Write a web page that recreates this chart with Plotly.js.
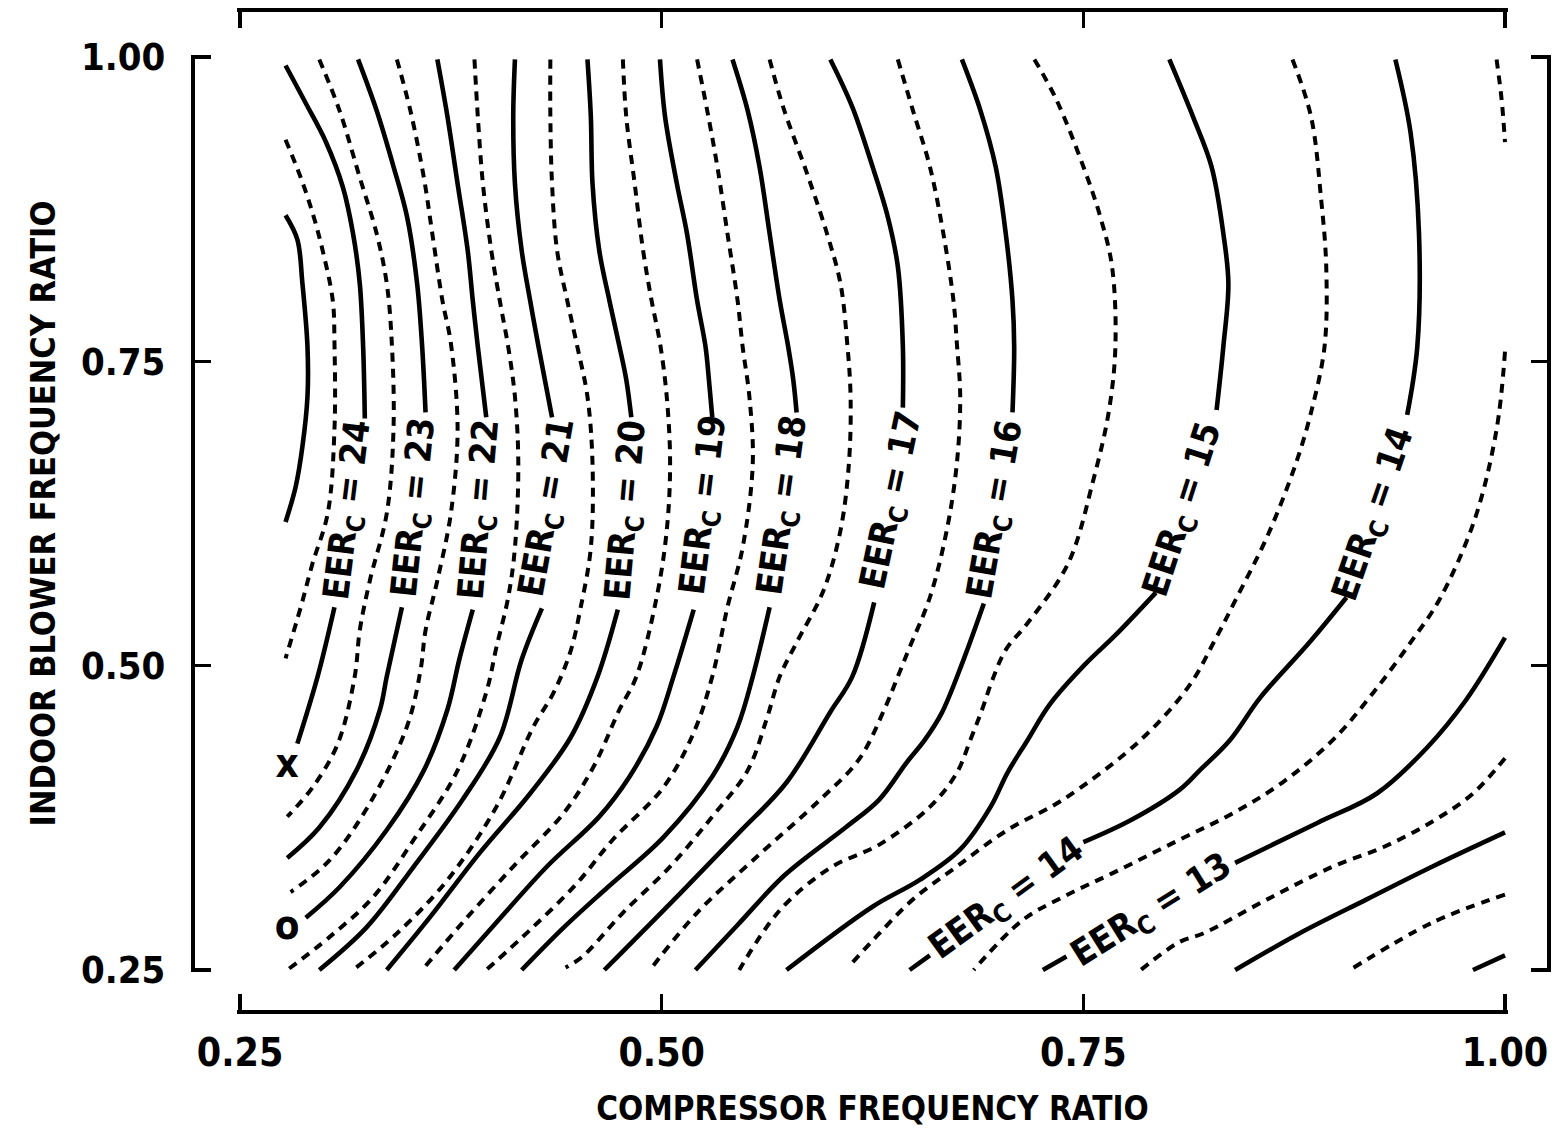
<!DOCTYPE html>
<html><head><meta charset="utf-8">
<script src="https://cdn.plot.ly/plotly-3.0.1.min.js"></script>
<style>html,body{margin:0;padding:0;background:#fff;}#chart{width:1555px;height:1128px;}</style>
</head><body><div id="chart"></div>
<script>
// ---- contour lines (x = compressor ratio, y = indoor blower ratio) ----
const eer25_x = [0.277,0.284,0.287,0.290,0.290,0.287,0.283,0.277];
const eer25_y = [0.870,0.850,0.814,0.762,0.721,0.680,0.647,0.618];
const eer245_x = [0.277,0.286,0.293,0.299,0.305,0.306,0.306,0.302,0.293,0.286,0.277];
const eer245_y = [0.932,0.901,0.872,0.841,0.800,0.765,0.694,0.625,0.584,0.548,0.506];
const eer24_x = [0.277,0.289,0.301,0.311,0.317,0.321,0.323,0.324,null,0.306,0.296,0.284];
const eer24_y = [0.993,0.962,0.930,0.893,0.855,0.814,0.762,0.703,null,0.548,0.491,0.436];
const eer235_x = [0.297,0.309,0.321,0.331,0.337,0.340,0.341,0.337,0.327,0.321,0.318,0.308,0.293,0.278];
const eer235_y = [0.998,0.956,0.901,0.855,0.814,0.765,0.694,0.625,0.570,0.529,0.491,0.436,0.400,0.376];
const eer23_x = [0.320,0.331,0.341,0.349,0.355,0.358,0.360,null,0.346,0.337,0.333,0.319,0.297,0.278];
const eer23_y = [0.998,0.956,0.910,0.869,0.814,0.762,0.708,null,0.548,0.491,0.464,0.414,0.367,0.342];
const eer225_x = [0.343,0.351,0.359,0.364,0.370,0.375,0.379,0.375,0.367,0.360,0.357,0.349,0.327,0.303,0.280];
const eer225_y = [0.998,0.956,0.901,0.855,0.800,0.765,0.694,0.625,0.570,0.529,0.496,0.450,0.387,0.340,0.314];
const eer22_x = [0.367,0.373,0.379,0.385,0.388,0.391,0.396,null,0.388,0.380,0.373,0.359,0.337,0.309,0.289];
const eer22_y = [0.998,0.951,0.896,0.841,0.800,0.762,0.704,null,0.546,0.505,0.464,0.414,0.365,0.318,0.293];
const eer215_x = [0.389,0.391,0.394,0.399,0.404,0.409,0.413,0.415,0.413,0.409,0.402,0.396,0.379,0.353,0.329,0.303,0.278];
const eer215_y = [0.998,0.951,0.896,0.841,0.800,0.762,0.721,0.666,0.597,0.556,0.515,0.478,0.414,0.357,0.310,0.277,0.250];
const eer21_x = [0.413,0.412,0.413,0.417,0.422,0.427,0.435,null,0.429,0.417,0.404,0.382,0.353,0.325,0.297];
const eer21_y = [0.998,0.951,0.896,0.841,0.800,0.762,0.704,null,0.547,0.505,0.441,0.390,0.335,0.285,0.250];
const eer205_x = [0.434,0.434,0.435,0.438,0.444,0.450,0.456,0.459,0.458,0.452,0.446,0.436,0.424,0.402,0.373,0.343,0.317];
const eer205_y = [0.998,0.951,0.896,0.841,0.800,0.762,0.721,0.666,0.597,0.548,0.512,0.478,0.450,0.384,0.324,0.280,0.250];
const eer20_x = [0.456,0.458,0.459,0.463,0.469,0.475,0.479,0.482,null,0.474,0.462,0.446,0.422,0.392,0.363,0.337];
const eer20_y = [0.998,0.951,0.896,0.841,0.800,0.762,0.735,0.704,null,0.546,0.491,0.441,0.395,0.346,0.294,0.250];
const eer195_x = [0.477,0.479,0.484,0.489,0.494,0.499,0.503,0.505,0.503,0.497,0.485,0.475,0.460,0.442,0.412,0.382,0.358];
const eer195_y = [0.998,0.951,0.896,0.841,0.800,0.765,0.721,0.666,0.611,0.556,0.491,0.464,0.418,0.379,0.335,0.289,0.250];
const eer19_x = [0.499,0.502,0.509,0.515,0.521,0.526,0.528,0.530,null,0.519,0.507,0.497,0.481,0.463,0.432,0.402,0.377];
const eer19_y = [0.998,0.951,0.896,0.855,0.800,0.762,0.735,0.704,null,0.546,0.491,0.450,0.409,0.376,0.335,0.289,0.250];
const eer185_x = [0.521,0.527,0.533,0.539,0.545,0.548,0.552,0.554,0.548,0.539,0.530,0.519,0.501,0.471,0.449,0.422,0.396];
const eer185_y = [0.998,0.956,0.910,0.855,0.800,0.762,0.721,0.666,0.597,0.548,0.491,0.445,0.400,0.357,0.320,0.283,0.250];
const eer18_x = [0.542,0.551,0.558,0.564,0.570,0.575,0.578,0.580,null,0.564,0.554,0.545,0.530,0.501,0.468,0.442,0.417];
const eer18_y = [0.998,0.956,0.910,0.855,0.800,0.762,0.735,0.708,null,0.548,0.491,0.450,0.409,0.359,0.318,0.285,0.250];
const eer175_x = [0.564,0.572,0.586,0.598,0.606,0.610,0.612,0.611,0.606,0.596,0.580,0.570,0.562,0.551,0.530,0.505,0.477,0.453,0.443];
const eer175_y = [0.998,0.959,0.905,0.855,0.814,0.765,0.721,0.666,0.611,0.562,0.519,0.491,0.455,0.414,0.376,0.335,0.297,0.261,0.252];
const eer17_x = [0.600,0.613,0.625,0.634,0.640,0.643,0.643,null,0.626,0.613,0.600,0.574,0.546,0.511,0.466];
const eer17_y = [0.998,0.959,0.910,0.869,0.828,0.762,0.712,null,0.552,0.491,0.462,0.404,0.363,0.313,0.250];
const eer165_x = [0.640,0.649,0.659,0.667,0.673,0.675,0.677,0.675,0.669,0.659,0.647,0.640,0.632,0.617,0.594,0.554,0.521,0.493];
const eer165_y = [0.998,0.956,0.910,0.855,0.800,0.765,0.721,0.666,0.611,0.556,0.515,0.491,0.464,0.423,0.390,0.340,0.297,0.250];
const eer16_x = [0.678,0.689,0.698,0.704,0.708,0.709,0.708,null,0.691,0.679,0.666,0.656,0.645,0.629,0.609,0.573,0.545,0.520];
const eer16_y = [0.998,0.956,0.910,0.855,0.800,0.762,0.708,null,0.551,0.505,0.461,0.439,0.420,0.390,0.367,0.328,0.287,0.250];
const eer155_x = [0.721,0.734,0.750,0.760,0.767,0.769,0.765,0.756,0.741,0.717,0.704,0.696,0.690,0.683,0.675,0.659,0.629,0.600,0.570,0.546];
const eer155_y = [0.998,0.965,0.910,0.869,0.828,0.762,0.708,0.653,0.584,0.535,0.513,0.488,0.464,0.439,0.412,0.384,0.353,0.334,0.299,0.250];
const eer15_x = [0.801,0.815,0.826,0.833,0.836,0.833,0.829,null,0.793,0.769,0.751,0.730,0.717,0.705,0.695,0.677,0.653,0.625,0.574];
const eer15_y = [0.998,0.951,0.910,0.855,0.814,0.762,0.710,null,0.560,0.525,0.501,0.468,0.439,0.412,0.384,0.349,0.324,0.302,0.250];
const eer145_x = [0.874,0.885,0.891,0.894,0.893,0.885,0.876,0.859,0.841,0.828,0.813,0.784,0.738,0.705,0.675,0.649,0.629,0.613];
const eer145_y = [0.998,0.951,0.883,0.828,0.762,0.708,0.666,0.606,0.556,0.521,0.484,0.439,0.390,0.365,0.335,0.308,0.280,0.256];
const eer14_x = [0.935,0.944,0.949,0.948,0.942,null,0.906,0.884,0.855,0.837,0.819,0.807,0.778,0.750,null,0.659,0.647];
const eer14_y = [0.998,0.938,0.855,0.762,0.706,null,0.556,0.519,0.474,0.439,0.414,0.398,0.373,0.355,null,0.262,0.250];
const eer135_x = [0.995,0.998,1.000,null,1.000,0.995,0.982,0.961,0.945,0.922,0.898,0.868,0.839,0.807,0.768,0.738,0.714,0.685];
const eer135_y = [0.998,0.965,0.930,null,0.758,0.694,0.620,0.554,0.521,0.478,0.439,0.404,0.379,0.357,0.330,0.310,0.291,0.250];
const eer13_x = [1.000,0.977,0.954,0.924,0.889,0.840,null,0.740,0.726];
const eer13_y = [0.523,0.472,0.433,0.395,0.371,0.338,null,0.261,0.250];
const eer125_x = [1.000,0.981,0.957,0.928,0.898,0.859,0.821,0.807,0.784];
const eer125_y = [0.424,0.395,0.372,0.351,0.335,0.308,0.280,0.273,0.250];
const eer12_x = [1.000,0.957,0.918,0.878,0.840];
const eer12_y = [0.363,0.335,0.308,0.280,0.250];
const eer115_x = [1.000,0.957,0.908];
const eer115_y = [0.312,0.289,0.250];
const eer11_x = [1.000,0.981];
const eer11_y = [0.262,0.250];

// contour labels
const labelValues = [24,23,22,21,20,19,18,17,16,15,14,14,13];
const labelX = [0.315,0.354,0.393,0.433,0.480,0.526,0.573,0.637,0.699,0.810,0.923,0.705,0.791];
const labelY = [0.628,0.630,0.628,0.630,0.628,0.632,0.632,0.636,0.628,0.628,0.624,0.308,0.298];
const labelAngle = [-83,-84,-85,-80,-85,-83,-82,-78,-80,-72,-71,-36,-32];

// operating point markers
const pointText = ['x','o'];
const pointX = [0.278,0.278];
const pointY = [0.417,0.284];

// axis ticks
const tickVals = [0.25,0.50,0.75,1.00];
const tickText = ['0.25','0.50','0.75','1.00'];

const lines = [
  [25,eer25_x,eer25_y],[24.5,eer245_x,eer245_y],[24,eer24_x,eer24_y],
  [23.5,eer235_x,eer235_y],[23,eer23_x,eer23_y],[22.5,eer225_x,eer225_y],
  [22,eer22_x,eer22_y],[21.5,eer215_x,eer215_y],[21,eer21_x,eer21_y],
  [20.5,eer205_x,eer205_y],[20,eer20_x,eer20_y],[19.5,eer195_x,eer195_y],
  [19,eer19_x,eer19_y],[18.5,eer185_x,eer185_y],[18,eer18_x,eer18_y],
  [17.5,eer175_x,eer175_y],[17,eer17_x,eer17_y],[16.5,eer165_x,eer165_y],
  [16,eer16_x,eer16_y],[15.5,eer155_x,eer155_y],[15,eer15_x,eer15_y],
  [14.5,eer145_x,eer145_y],[14,eer14_x,eer14_y],[13.5,eer135_x,eer135_y],
  [13,eer13_x,eer13_y],[12.5,eer125_x,eer125_y],[12,eer12_x,eer12_y],
  [11.5,eer115_x,eer115_y],[11,eer11_x,eer11_y]
];

const FONT = 'DejaVu Sans Condensed, Liberation Sans Narrow, Arial Narrow, DejaVu Sans, sans-serif';

const traces = lines.map(([v,x,y]) => ({
  type:'scatter', mode:'lines', x:x, y:y, name:'EER '+v,
  connectgaps:false, hoverinfo:'skip',
  line:{color:'#000', width:(v%1===0)?4.6:4.0, dash:(v%1===0)?'solid':'9px,7px', shape:'spline', smoothing:1.0}
}));

traces.push({
  type:'scatter', mode:'text', x:pointX, y:pointY, text:pointText,
  xaxis:'x2', yaxis:'y2', hoverinfo:'skip', cliponaxis:false,
  textfont:{family:FONT, size:40, color:'#000', weight:'bold'}, textposition:'middle center'
});

const annotations = labelValues.map((v,i) => ({
  x:labelX[i], y:labelY[i], xref:'x', yref:'y',
  text:'EER<sub>C</sub> = '+v, showarrow:false, textangle:labelAngle[i],
  xanchor:'center', yanchor:'middle',
  font:{family:FONT, size:36, color:'#000', weight:'bold'}
}));

const axBase = {
  range:[0.248,1.002], showline:true, linewidth:4, linecolor:'#000',
  ticks:'inside', ticklen:16, tickwidth:3.5, tickcolor:'#000',
  tickmode:'array', tickvals:tickVals, ticktext:tickText,
  showgrid:false, zeroline:false, fixedrange:true
};

const layout = {
  width:1555, height:1128,
  margin:{l:193, r:6, t:10, b:116, pad:0},
  paper_bgcolor:'#ffffff', plot_bgcolor:'rgba(0,0,0,0)',
  showlegend:false,
  font:{family:FONT, color:'#000'},
  xaxis:Object.assign({}, axBase, {
    domain:[0.03218,0.97004], anchor:'free', position:0,
    tickfont:{family:FONT, size:39, color:'#000', weight:'bold'},
    ticklabelstandoff:5,
    title:{text:'COMPRESSOR FREQUENCY RATIO', standoff:30,
      font:{family:FONT, size:33, color:'#000', weight:'bold'}}
  }),
  yaxis:Object.assign({}, axBase, {
    domain:[0.03949,0.95552], anchor:'free', position:0,
    tickfont:{family:FONT, size:38, color:'#000', weight:'bold'},
    ticklabelstandoff:18,
    title:{text:'INDOOR BLOWER FREQUENCY RATIO', standoff:14,
      font:{family:FONT, size:34, color:'#000', weight:'bold'}}
  }),
  xaxis2:Object.assign({}, axBase, {
    overlaying:'x', side:'top', anchor:'free', position:1, showticklabels:false, matches:'x'
  }),
  yaxis2:Object.assign({}, axBase, {
    overlaying:'y', side:'right', anchor:'free', position:1, showticklabels:false, matches:'y'
  }),
  annotations:annotations
};

Plotly.newPlot('chart', traces, layout, {displayModeBar:false, staticPlot:true});
</script></body></html>
